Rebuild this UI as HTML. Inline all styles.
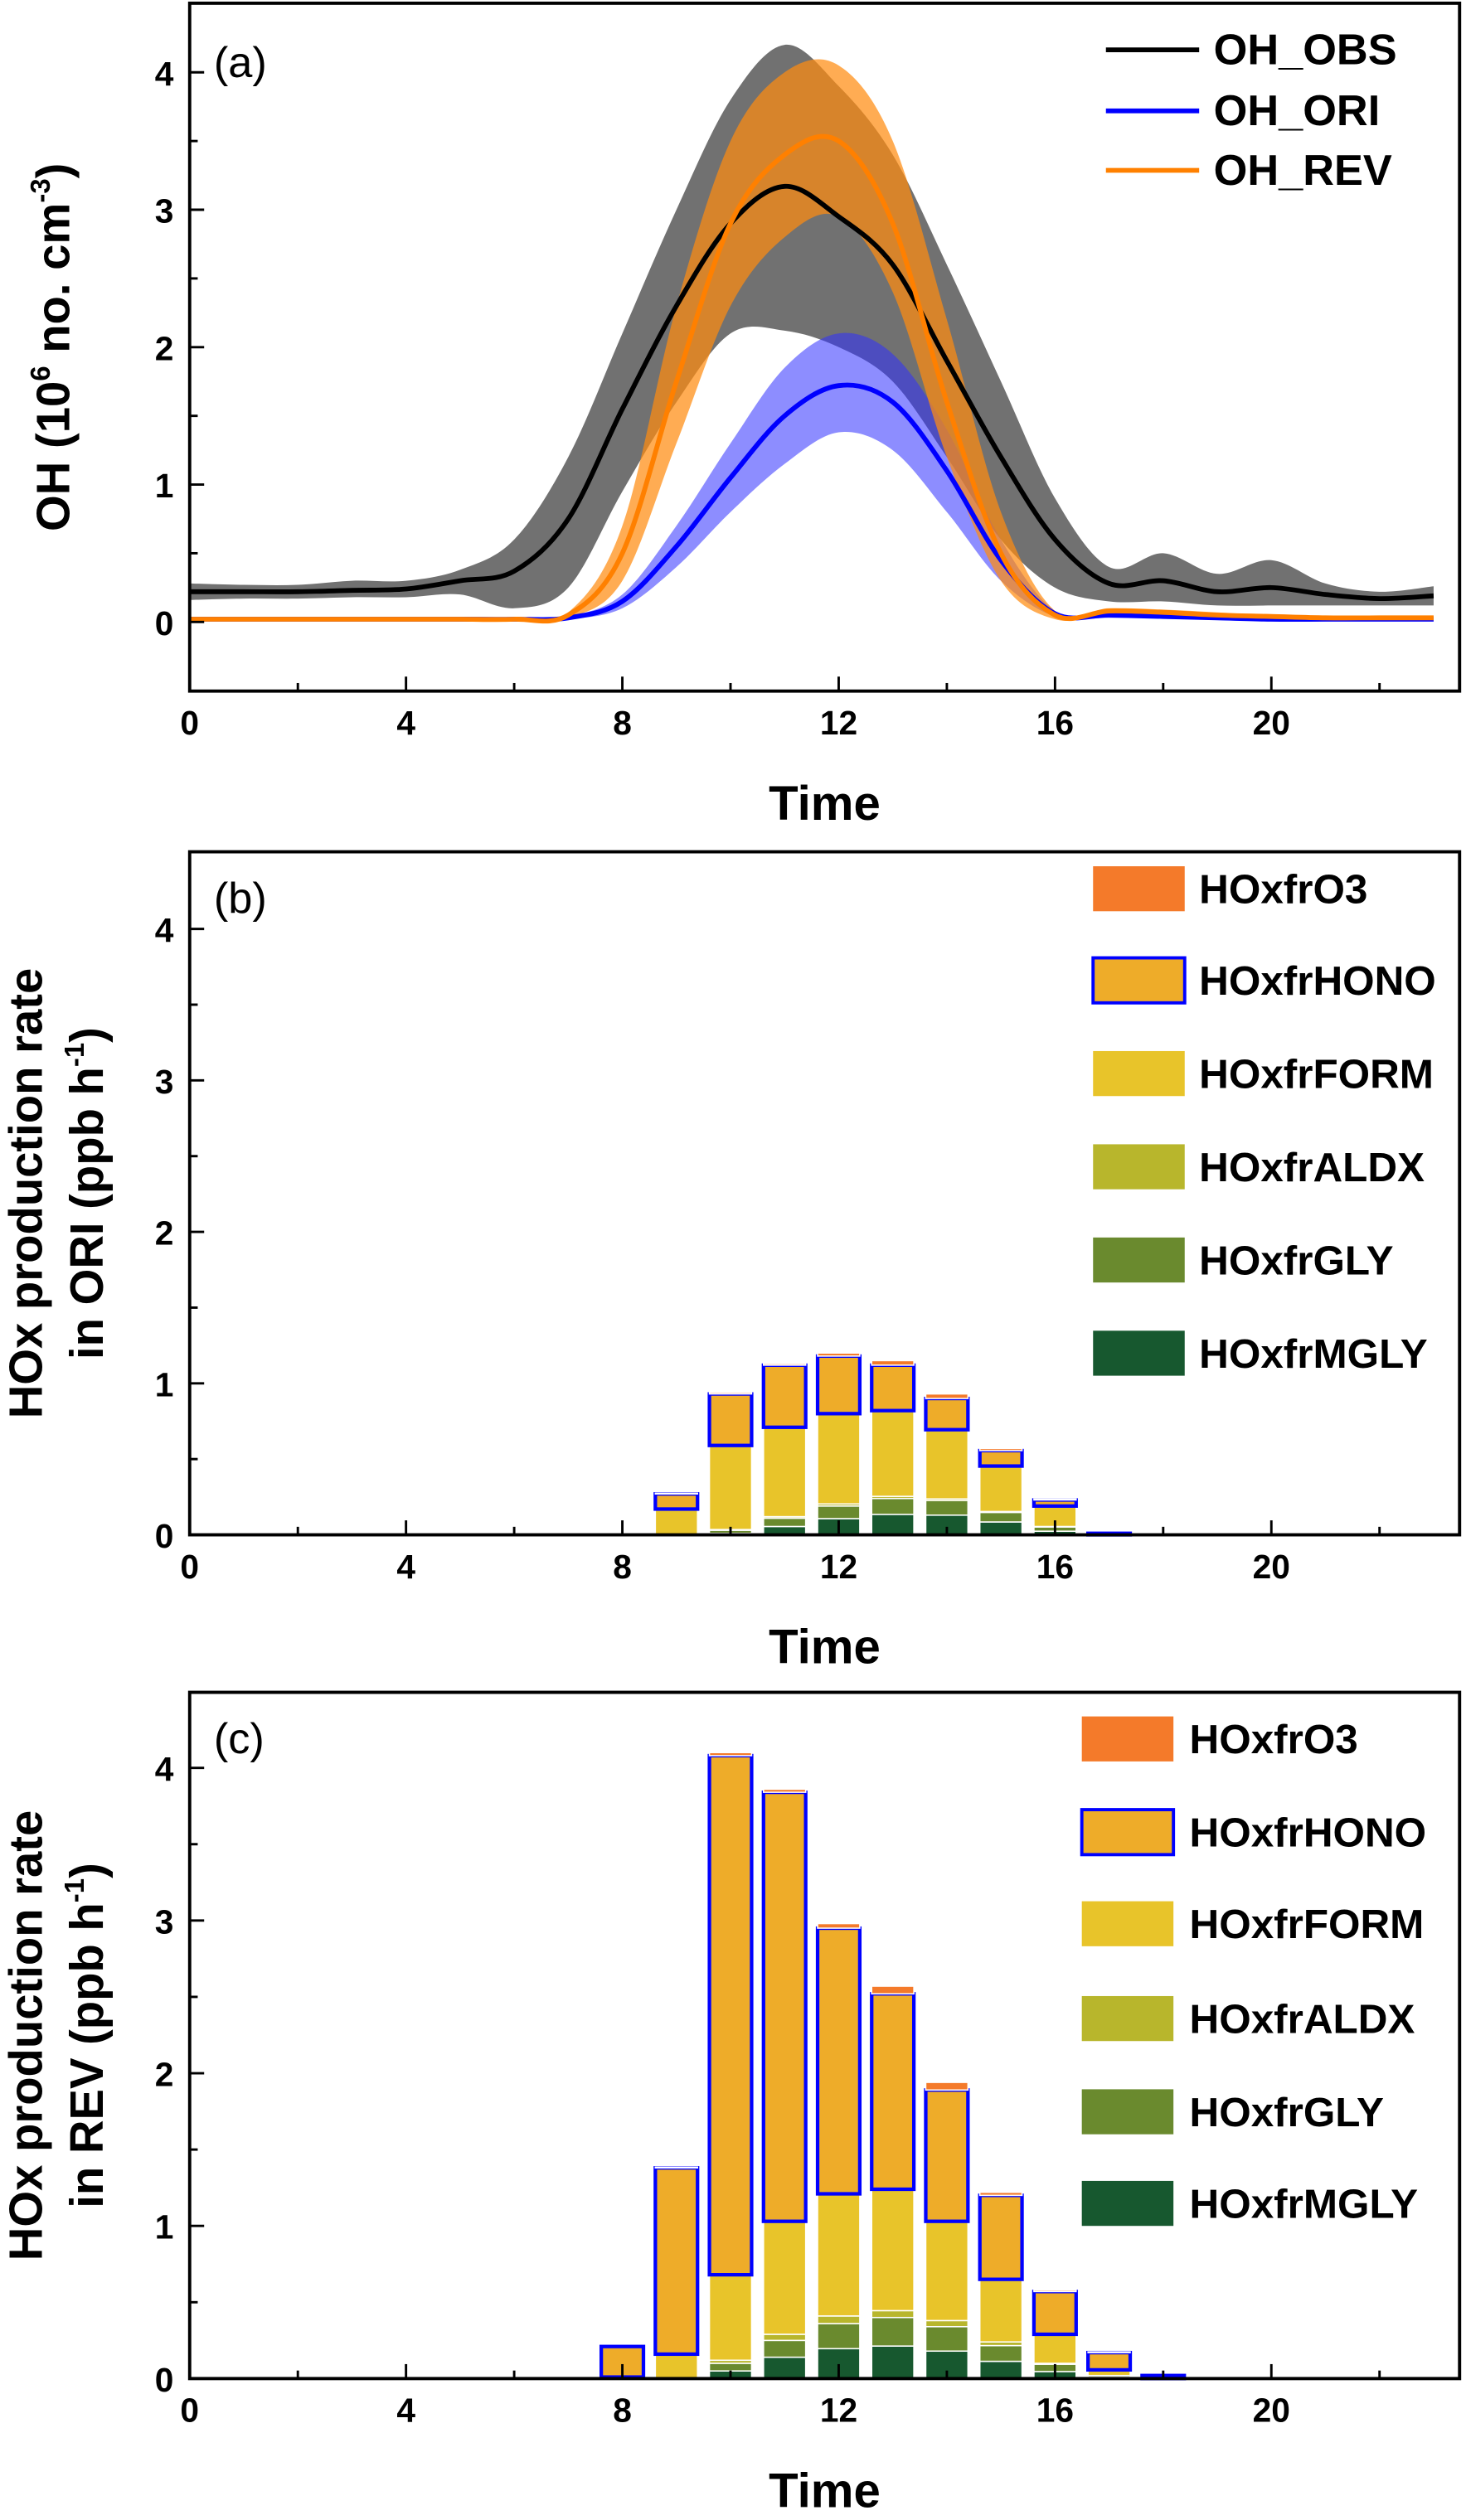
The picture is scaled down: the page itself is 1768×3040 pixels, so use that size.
<!DOCTYPE html>
<html><head><meta charset="utf-8"><style>
html,body{margin:0;padding:0;background:#fff}
svg{display:block}
text{font-family:"Liberation Sans",Arial,sans-serif;font-weight:bold;fill:#000}
</style></head><body>
<svg id="fig" width="1768" height="3040" viewBox="0 0 912 1568" preserveAspectRatio="none" xmlns="http://www.w3.org/2000/svg"></svg>
<script>
// ---- Panel (a) data ----
const hours = [0,1,2,3,4,5,6,7,8,9,10,11,12,13,14,15,16,17,18,19,20,21,22,23];
const obsMean = [0.22,0.22,0.22,0.23,0.24,0.3,0.37,0.75,1.55,2.3,2.9,3.17,2.95,2.6,1.9,1.2,0.6,0.28,0.3,0.22,0.25,0.2,0.17,0.19];
const obsUpper = [0.28,0.27,0.27,0.3,0.3,0.38,0.6,1.2,2.1,3.0,3.8,4.2,3.9,3.4,2.6,1.75,0.9,0.4,0.5,0.35,0.45,0.28,0.22,0.26];
const obsLower = [0.16,0.17,0.17,0.18,0.18,0.2,0.1,0.25,0.95,1.6,2.1,2.12,2.0,1.75,1.2,0.6,0.25,0.15,0.15,0.12,0.12,0.12,0.12,0.12];
const oriMean = [0.02,0.02,0.02,0.02,0.02,0.02,0.02,0.03,0.15,0.55,1.05,1.5,1.72,1.6,1.1,0.45,0.06,0.05,0.04,0.03,0.02,0.02,0.02,0.02];
const oriUpper = [0.03,0.03,0.03,0.03,0.03,0.03,0.03,0.04,0.2,0.7,1.3,1.85,2.1,1.95,1.4,0.6,0.08,0.06,0.05,0.04,0.03,0.03,0.03,0.03];
const oriLower = [0.01,0.01,0.01,0.01,0.01,0.01,0.01,0.02,0.1,0.4,0.8,1.15,1.38,1.25,0.8,0.3,0.04,0.03,0.03,0.02,0.01,0.01,0.01,0.01];
const revMean = [0.02,0.02,0.02,0.02,0.02,0.02,0.02,0.05,0.5,1.75,2.9,3.4,3.5,2.9,1.6,0.5,0.05,0.08,0.07,0.05,0.04,0.03,0.03,0.03];
const revUpper = [0.03,0.03,0.03,0.03,0.03,0.03,0.03,0.07,0.7,2.3,3.5,4.0,4.05,3.5,2.2,0.8,0.08,0.1,0.09,0.07,0.05,0.04,0.04,0.04];
const revLower = [0.01,0.01,0.01,0.01,0.01,0.01,0.01,0.03,0.3,1.3,2.3,2.8,2.95,2.4,1.2,0.3,0.02,0.06,0.05,0.03,0.03,0.02,0.02,0.02];
const xTicks = [0,4,8,12,16,20];
const yTicks = [0,1,2,3,4];
// ---- Panel (b)/(c) data ----
const speciesNames = ["HOxfrMGLY","HOxfrGLY","HOxfrALDX","HOxfrFORM","HOxfrHONO","HOxfrO3"];
const barHours = [8,9,10,11,12,13,14,15,16,17,18];
const oriMGLY = [0,0,0.01,0.055,0.107,0.135,0.13,0.085,0.024,0,0];
const oriGLY  = [0,0,0.02,0.055,0.083,0.105,0.096,0.063,0.028,0,0];
const oriALDX = [0,0,0.005,0.01,0.014,0.014,0.011,0.006,0.003,0,0];
const oriFORM = [0,0.17,0.555,0.59,0.596,0.566,0.457,0.3,0.135,0,0];
const oriHONO = [0,0.1,0.34,0.41,0.38,0.3,0.206,0.102,0.04,0.01,0];
const oriO3   = [0,0.005,0.01,0.01,0.02,0.03,0.03,0.014,0.007,0,0];
const revMGLY = [0,0,0.05,0.14,0.196,0.213,0.18,0.113,0.046,0.01,0];
const revGLY  = [0,0,0.05,0.11,0.164,0.187,0.16,0.103,0.048,0.01,0];
const revALDX = [0,0,0.02,0.04,0.05,0.045,0.04,0.024,0.006,0,0];
const revFORM = [0.01,0.16,0.56,0.74,0.8,0.795,0.65,0.41,0.19,0.037,0];
const revHONO = [0.2,1.22,3.4,2.81,1.74,1.28,0.86,0.55,0.28,0.113,0.02];
const revO3   = [0,0.005,0.02,0.02,0.03,0.05,0.05,0.02,0.01,0.005,0];
const colors = {HOxfrMGLY:"#17582f",HOxfrGLY:"#6a8a2e",HOxfrALDX:"#b8b62c",HOxfrFORM:"#e8c42a",HOxfrHONO:"#eeac29",HOxfrO3:"#f47a2a"};

const NS="http://www.w3.org/2000/svg";
const svg=document.getElementById('fig');
function el(tag,attrs,parent){const e=document.createElementNS(NS,tag);for(const k in attrs)e.setAttribute(k,attrs[k]);(parent||svg).appendChild(e);return e;}
const X0=118,X1=908,XMIN=0,XMAX=23.48;
function xs(h){return X0+(h-XMIN)/(XMAX-XMIN)*(X1-X0);}

function frame(g,top,bottom,yOf,name){
  const r=el('rect',{x:X0,y:top,width:X1-X0,height:bottom-top,fill:'none',stroke:'#000','stroke-width':2},g);
  
  
  for(let h=0;h<=22;h+=2){
    const len=(h%4===0)?9:5;
    const t=el('line',{x1:xs(h),x2:xs(h),y1:bottom,y2:bottom-len,stroke:'#000','stroke-width':1.5},g);
    
    
  }
  xTicks.forEach(h=>{
    const t=el('text',{x:xs(h),y:bottom+27,'font-size':21,'text-anchor':'middle'},g);t.textContent=h;
    
    
  });
  for(let v=0;v<=4;v+=0.5){
    const len=(v%1===0)?9:5;
    const t=el('line',{x1:X0,x2:X0+len,y1:yOf(v),y2:yOf(v),stroke:'#000','stroke-width':1.5},g);
    
    
  }
  yTicks.forEach(v=>{
    const t=el('text',{x:X0-10,y:yOf(v)+8,'font-size':21,'text-anchor':'end'},g);t.textContent=v;
    
    
  });
  const tt=el('text',{x:513,y:bottom+80,'font-size':30,'text-anchor':'middle'},g);tt.textContent='Time';
  
  
}

function smoothPath(pts){
  let d='M'+pts[0][0]+','+pts[0][1];
  for(let i=0;i<pts.length-1;i++){
    const p0=pts[Math.max(0,i-1)],p1=pts[i],p2=pts[i+1],p3=pts[Math.min(pts.length-1,i+2)];
    const c1=[p1[0]+(p2[0]-p0[0])/6,p1[1]+(p2[1]-p0[1])/6];
    const c2=[p2[0]-(p3[0]-p1[0])/6,p2[1]-(p3[1]-p1[1])/6];
    d+=' C'+c1[0]+','+c1[1]+' '+c2[0]+','+c2[1]+' '+p2[0]+','+p2[1];
  }
  return d;
}

// ===== Panel a =====
(function(){
  const g=el('g',{});
  
  
  const top=2,bottom=430;const yOf=v=>387-v*85.5;
  function band(up,lo,fill,op,name){
    const u=hours.map((h,i)=>[xs(h),yOf(up[i])]);
    const l=hours.map((h,i)=>[xs(h),yOf(lo[i])]).reverse();
    const lp=smoothPath(l);
    const d=smoothPath(u)+' L'+l[0][0]+','+l[0][1]+lp.slice(lp.indexOf(' C'))+' Z';
    const p=el('path',{d:d,fill:fill,'fill-opacity':op,stroke:'none'},g);
    
    
  }
  function line(m,stroke,name){
    const p=el('path',{d:smoothPath(hours.map((h,i)=>[xs(h),yOf(m[i])])),fill:'none',stroke:stroke,'stroke-width':3},g);
    
    
  }
  band(obsUpper,obsLower,'#3a3a3a',0.72,'obs-range-band');
  band(oriUpper,oriLower,'#3030ff',0.55,'ori-range-band');
  band(revUpper,revLower,'#ff8c10',0.72,'rev-range-band');
  line(obsMean,'#000','oh-obs-line');
  line(oriMean,'#0000ff','oh-ori-line');
  line(revMean,'#ff8000','oh-rev-line');
  frame(g,top,bottom,yOf,'panel-a');
  const pl=el('text',{x:133,y:48,'font-size':27},g);pl.textContent='(a)';pl.style.fontWeight='normal';
  
  
  const yt=el('text',{transform:'translate(43,216) rotate(-90)','font-size':29,'text-anchor':'middle'},g);
  yt.innerHTML='OH (10<tspan font-size="17" dy="-12">6</tspan><tspan dy="12"> no. cm</tspan><tspan font-size="17" dy="-12">-3</tspan><tspan dy="12">)</tspan>';
  
  
  [['OH_OBS','#000',31],['OH_ORI','#0000ff',69],['OH_REV','#ff8000',106]].forEach(([n,c,y])=>{
    const lg=el('g',{},g);
    
    
    el('line',{x1:688,x2:746,y1:y,y2:y,stroke:c,'stroke-width':3},lg);
    const t=el('text',{x:755,y:y+9,'font-size':27},lg);t.textContent=n;
  });
})();

// ===== Panels b,c =====
function barPanel(name,label,top,bottom,zeroY,unit,series,legX,legTxtX,legY,ytitle){
  const g=el('g',{});
  
  
  const yOf=v=>zeroY-v*unit;
  const bw=0.78*(X1-X0)/(XMAX-XMIN);
  barHours.forEach((h,i)=>{
    let cum=0;
    series.forEach((arr,k)=>{
      const v=arr[i];if(v<=0)return;
      const y1=yOf(cum),y2=yOf(cum+v);cum+=v;
      const sp=speciesNames[k];
      const isHono=sp==='HOxfrHONO';
      const r=el('rect',{x:xs(h)-bw/2,y:y2,width:bw,height:y1-y2,fill:colors[sp],stroke:isHono?'#0000ff':'#fff','stroke-width':isHono?2.2:0.8},g);
      
      
    });
  });
  frame(g,top,bottom,yOf,name);
  const pl=el('text',{x:133,y:top+38,'font-size':27},g);pl.textContent=label;pl.style.fontWeight='normal';
  
  
  const yt=el('text',{transform:'translate(0,'+((top+bottom)/2)+') rotate(-90)','font-size':29,'text-anchor':'middle'},g);
  yt.innerHTML='<tspan x="0" y="26">HOx production rate</tspan><tspan x="0" y="64">in '+ytitle+' (ppb h</tspan><tspan font-size="17" dy="-12">-1</tspan><tspan dy="12">)</tspan>';
  
  
  const order=["HOxfrO3","HOxfrHONO","HOxfrFORM","HOxfrALDX","HOxfrGLY","HOxfrMGLY"];
  order.forEach((sp,j)=>{
    const lg=el('g',{},g);
    
    
    const y=legY[j];
    el('rect',{x:legX,y:y-14,width:57,height:28,fill:colors[sp],stroke:sp==='HOxfrHONO'?'#0000ff':'none','stroke-width':2},lg);
    const t=el('text',{x:legTxtX,y:y+9,'font-size':25.5},lg);t.textContent=sp;
  });
}
barPanel('panel-b-ori','(b)',530,955,955,94.25,[oriMGLY,oriGLY,oriALDX,oriFORM,oriHONO,oriO3],680,746,[553,610,668,726,784,842],'ORI');
barPanel('panel-c-rev','(c)',1053,1480,1480,95,[revMGLY,revGLY,revALDX,revFORM,revHONO,revO3],673,740,[1082,1140,1197,1256,1314,1371],'REV');
</script>
</body></html>
